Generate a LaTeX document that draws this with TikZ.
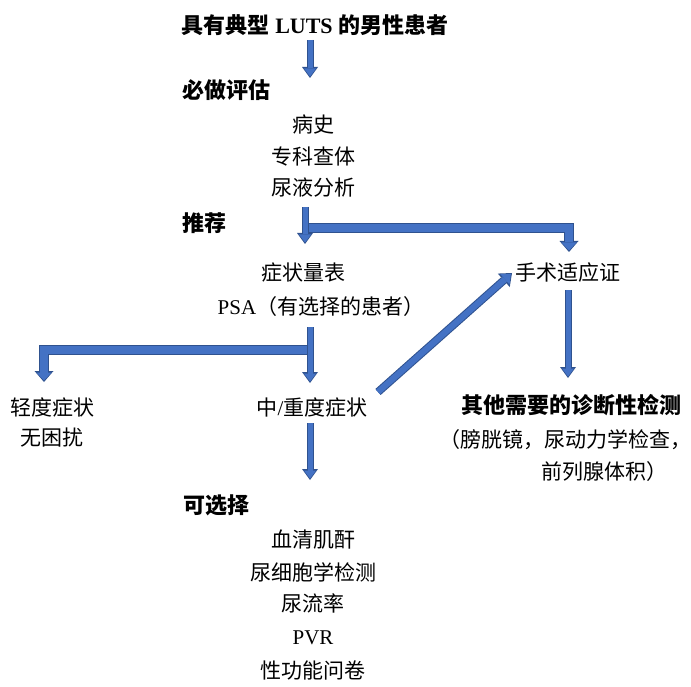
\documentclass[tikz,border=0pt]{standalone}
\usepackage{fontspec}
\setmainfont{Liberation Serif}
\newfontfamily\cjk{Noto Sans CJK SC}
\usetikzlibrary{arrows.meta}
\definecolor{afill}{HTML}{4472C4}
\definecolor{adark}{HTML}{2F528F}
\tikzset{
  txt/.style={inner sep=0pt, font=\fontsize{21}{25}\selectfont\cjk, anchor=center},
  hd/.style={inner sep=0pt, font=\fontsize{22}{26}\selectfont\cjk\bfseries, anchor=west},
  % main vertical arrows
  mout/.style={draw=adark, line width=7pt, line join=miter,
    -{Triangle[width=16pt,length=11pt,line width=0pt]}},
  min/.style={draw=afill, line width=5pt, line join=miter, shorten >=1.5pt,
    -{Triangle[width=12pt,length=8pt,line width=0pt]}},
  % branch (elbow) arrows
  bout/.style={draw=adark, line width=9.5pt, line join=miter,
    -{Triangle[width=19pt,length=11pt,line width=0pt]}},
  bin/.style={draw=afill, line width=7.5pt, line join=miter, shorten >=1.5pt,
    -{Triangle[width=15pt,length=8pt,line width=0pt]}},
  % diagonal arrow
  dout/.style={draw=adark, line width=8pt, line join=miter,
    -{Triangle[width=18pt,length=11pt,line width=0pt]}},
  din/.style={draw=afill, line width=6pt, line join=miter, shorten >=1.5pt,
    -{Triangle[width=14pt,length=8pt,line width=0pt]}},
}
\newcommand\blkarrow[2]{\draw[#1out] #2; \draw[#1in] #2;}
\begin{document}
\begin{tikzpicture}[x=1pt,y=-1pt]
\useasboundingbox (0,0) rectangle (691,687);
% texts
\node[inner sep=0pt, font=\fontsize{22}{26}\selectfont\bfseries] (title) at (315,25)
  {{\cjk 具有典型} LUTS {\cjk 的男性患者}};
\node[hd] (must) at (182,90) {必做评估};
\node[txt] (hist) at (313,125) {病史};
\node[txt] (exam) at (313,157) {专科查体};
\node[txt] (urine) at (313,188) {尿液分析};
\node[hd] (rec) at (182,223) {推荐};
\node[txt] (score) at (303,273) {症状量表};
\node[txt] (psa) at (321,307) {{\rmfamily PSA}（有选择的患者）};
\node[txt] (mild) at (52,407) {轻度症状};
\node[txt] (mild2) at (52,438) {无困扰};
\node[txt] (mod) at (312,407) {中{\rmfamily /}重度症状};
\node[txt] (surg) at (568,273) {手术适应证};
\node[hd,anchor=center] (other) at (571,405) {其他需要的诊断性检测};
\node[txt] (other2) at (565,440) {（膀胱镜，尿动力学检查，};
\node[txt] (other3) at (604,472) {前列腺体积）};
\node[hd] (opt) at (183,505) {可选择};
\node[txt] (o1) at (313,540) {血清肌酐};
\node[txt] (o2) at (313,572) {尿细胞学检测};
\node[txt] (o3) at (313,603) {尿流率};
\node[txt] (o4) at (313,638) {\rmfamily PVR};
\node[txt] (o5) at (313,670) {性功能问卷};
% arrow end points
\coordinate (a1s) at (310,40);  \coordinate (a1e) at (310,78);
\coordinate (a2s) at (305,207); \coordinate (a2e) at (305,244);
\coordinate (b2s) at (305,228); \coordinate (b2e) at (569,252);
\coordinate (a3s) at (310,327); \coordinate (a3e) at (310,383);
\coordinate (b3s) at (310,350); \coordinate (b3e) at (44,382);
\coordinate (a4s) at (310,423); \coordinate (a4e) at (310,480);
\coordinate (dgs) at (378,392); \coordinate (dge) at (512,273);
\coordinate (a5s) at (568,290); \coordinate (a5e) at (568,378);
% arrows
\blkarrow{m}{(a1s) -- (a1e)}
\blkarrow{b}{(b2s) -| (b2e)}
\blkarrow{m}{(a2s) -- (a2e)}
\blkarrow{b}{(b3s) -| (b3e)}
\blkarrow{m}{(a3s) -- (a3e)}
\blkarrow{m}{(a4s) -- (a4e)}
\blkarrow{d}{(dgs) -- (dge)}
\blkarrow{m}{(a5s) -- (a5e)}
\end{tikzpicture}
\end{document}
